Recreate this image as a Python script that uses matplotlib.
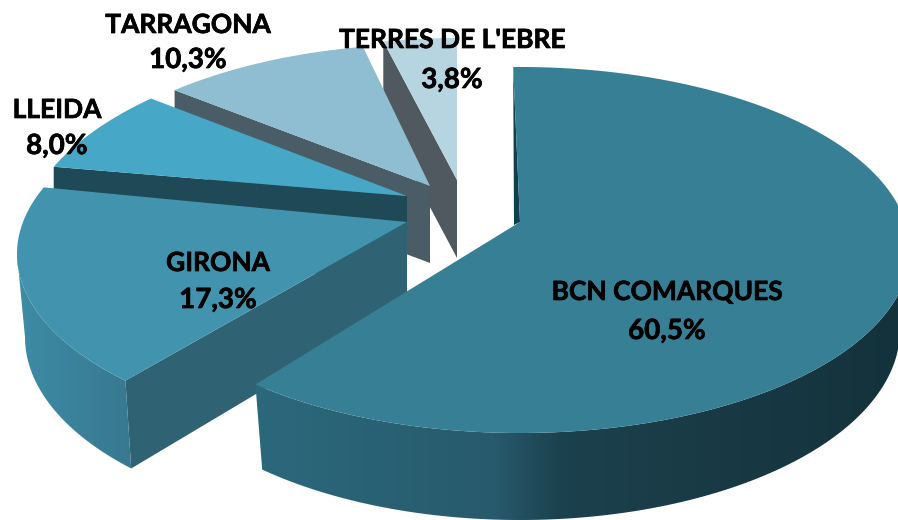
import numpy as np
import matplotlib
matplotlib.use("Agg")
import matplotlib.pyplot as plt
from matplotlib.patches import Polygon
from matplotlib.colors import to_rgb
import matplotlib.patheffects as pe

# ---- data ----
categories = ["BCN COMARQUES", "GIRONA", "LLEIDA", "TARRAGONA", "TERRES DE L'EBRE"]
values = [60.5, 17.3, 8.0, 10.3, 3.8]

# ---- layout (pixel space of the 898x520 canvas) ----
apex = [(520, 222), (407, 222), (407, 196), (430, 186), (457, 180)]
top_center = [(520, 250), (407, 254), (407, 254), (430, 233), (457, 221)]
top_radii = [(390, 183), (390, 183), (390, 206), (390, 189), (390, 183)]
low_center = [(520, 330), (407, 337), (407, 320), (430, 313), (457, 300)]
low_radii = [(380, 190), (382, 190), (382, 183), (382, 189), (382, 183)]
start_nudge = [-1.0, 8.2, 14.7, 9.9, 2.8]   # perspective correction, degrees
end_nudge = [4.7, 11.0, 9.8, 3.8, 0.0]
wall_from = [90, None, None, None, None]    # part of the outer wall that is visible
wall_to = [None, 270, None, None, None]
depth = [85, 85, 85, 77, 78]
top_colors = ["#367f95", "#4293ae", "#46a8c6", "#8fbdd1", "#b6d5e0"]
radial_colors = ["#0f3f4c", "#2f6373", "#1f4957", "#4a5c65", "#50595f"]
wall_stops = [
    [(262, "#2c687c"), (495, "#275a6c"), (560, "#1c414e"), (898, "#14323b")],
    [(20, "#3d8ba5"), (135, "#37788f")],
    None, None, None,
]
label_xy = [(667, 292, 331), (218, 263, 300), (57, 110, 146), (188, 25, 60), (452, 40, 80)]
name_size = 19
value_size = 20

plt.rcParams["font.family"] = ["Lato", "DejaVu Sans"]
fig = plt.figure(figsize=(8.98, 5.2), dpi=100)
ax = fig.add_axes([0, 0, 1, 1])
ax.axis("off")

total = sum(values)
cum = np.cumsum([0] + values) / total * 360.0


def arc(center, radii, t0, t1, n=160):
    t = np.radians(np.linspace(t0, t1, n))
    return np.column_stack([center[0] + radii[0] * np.sin(t),
                            center[1] - radii[1] * np.cos(t)])


def gradient(stops):
    xs = np.array([s[0] for s in stops], dtype=float)
    rgb = np.array([to_rgb(s[1]) for s in stops])
    grid = np.linspace(xs[0] - 10, xs[-1] + 10, 600)
    return np.stack([np.interp(grid, xs, rgb[:, k]) for k in range(3)], axis=-1)[None, :, :], grid


# back slices first, BCN last
for i in [4, 3, 2, 1, 0]:
    t0 = cum[i] + start_nudge[i]
    t1 = cum[i + 1] + end_nudge[i]
    up = arc(top_center[i], top_radii[i], t0, t1)
    lo = arc(low_center[i], low_radii[i], t0, t1)
    a = np.array(apex[i], dtype=float)
    z = i * -3 + 20

    if i == 0:
        ax.add_patch(Polygon([up[0], a, a + (-6, 3)], closed=True,
                             fc=radial_colors[i], ec="none", zorder=z))
    elif i == 1:
        ax.add_patch(Polygon([a, up[0], lo[0], a + (0, 82)], closed=True,
                             fc=radial_colors[i], ec="none", zorder=z))
    else:
        d = np.array((0, depth[i]))
        corner = up[0]
        ax.add_patch(Polygon([corner, a, a + d, corner + d], closed=True,
                             fc=radial_colors[i], ec="none", zorder=z))

    # outer curved wall with a smooth horizontal gradient
    if wall_stops[i] is not None:
        w0 = t0 if wall_from[i] is None else wall_from[i]
        w1 = t1 if wall_to[i] is None else wall_to[i]
        wu = arc(top_center[i], top_radii[i], w0, w1)
        wl = arc(low_center[i], low_radii[i], w0, w1)
        img, grid = gradient(wall_stops[i])
        wall = Polygon(np.vstack([wu, wl[::-1]]), closed=True, transform=ax.transData,
                       fc="none", ec="none")
        ax.add_patch(wall)
        im = ax.imshow(img, extent=(grid[0], grid[-1], 520, 0), aspect="auto",
                       interpolation="bilinear", zorder=z + 1)
        im.set_clip_path(wall)

    # top surface
    ax.add_patch(Polygon(np.vstack([a, up]), closed=True,
                         fc=top_colors[i], ec="none", zorder=z + 2))

ax.set_xlim(0, 898)
ax.set_ylim(520, 0)

# labels
heavy = [pe.withStroke(linewidth=0.5, foreground="black")]
for name, v, (x, y1, y2) in zip(categories, values, label_xy):
    ax.text(x, y1, name, ha="center", va="center", fontsize=name_size,
            fontweight="bold", color="black", zorder=30, path_effects=heavy)
    ax.text(x, y2, f"{v:.1f}%".replace(".", ","), ha="center", va="center",
            fontsize=value_size, fontweight="bold", color="black", zorder=30, path_effects=heavy)

fig.savefig("out.png", dpi=100, facecolor="white")
